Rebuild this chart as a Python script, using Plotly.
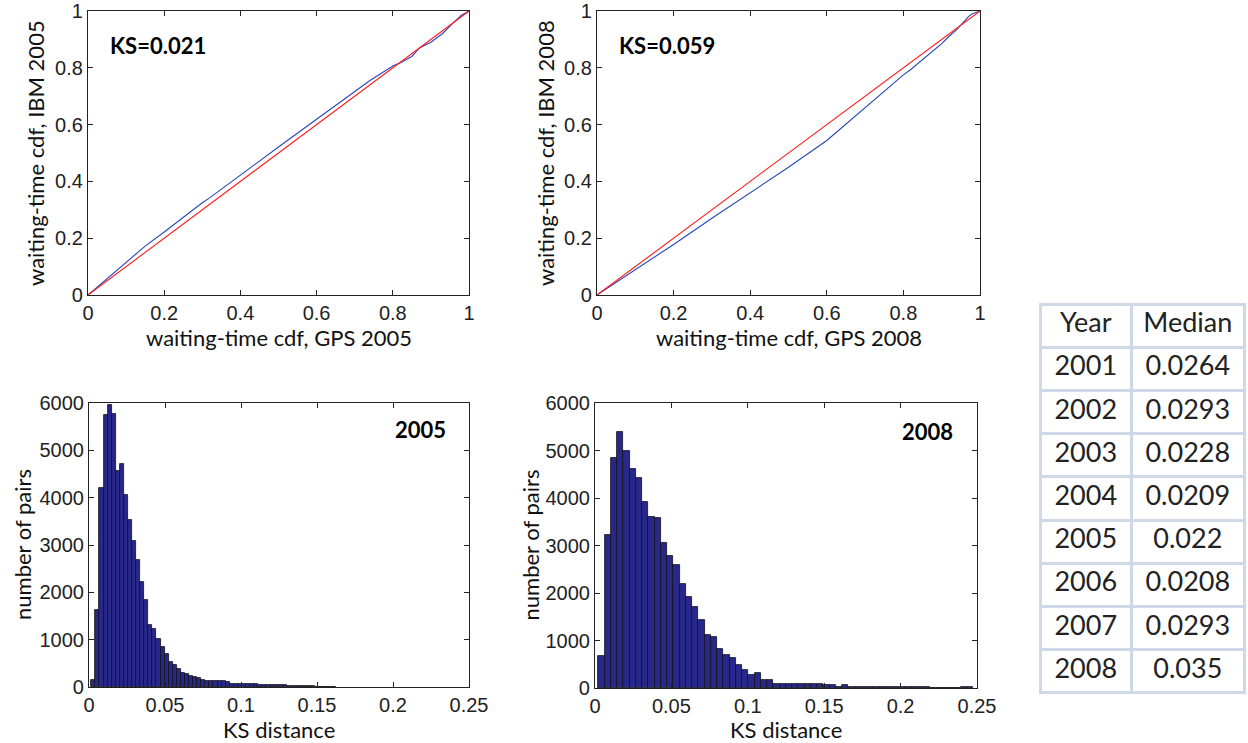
import plotly.graph_objects as go

# ---------------- data ----------------
# P-P curves (GPS cdf on x, IBM cdf on y)
pp2005_x = [0, 0.05, 0.1, 0.15, 0.2, 0.25, 0.3, 0.32, 0.4, 0.5, 0.6, 0.7, 0.74, 0.8, 0.82, 0.85, 0.87, 0.9, 0.93, 0.96, 0.98, 1]
pp2005_y = [0, 0.058, 0.115, 0.172, 0.222, 0.274, 0.325, 0.343, 0.423, 0.521, 0.619, 0.718, 0.755, 0.806, 0.818, 0.84, 0.87, 0.89, 0.92, 0.96, 0.985, 1]
pp2008_x = [0, 0.1, 0.2, 0.3, 0.4, 0.5, 0.6, 0.7, 0.8, 0.82, 0.85, 0.88, 0.9, 0.92, 0.94, 0.96, 0.97, 0.98, 1]
pp2008_y = [0, 0.088, 0.178, 0.27, 0.36, 0.45, 0.544, 0.66, 0.775, 0.795, 0.83, 0.862, 0.885, 0.912, 0.935, 0.965, 0.98, 0.99, 1]
diag_x = [0, 1]
diag_y = [0, 1]
ks_labels = ["KS=0.021", "KS=0.059"]

# KS-distance histograms (60 bins each)
hist2005_start = 0.0015
hist2005_width = 0.00268
hist2005_counts = [150, 1620, 4200, 5740, 5950, 5775, 4560, 4720, 4050, 3530, 3080, 2680, 2220, 1830, 1300,
                   1225, 1020, 840, 700, 530, 460, 370, 300, 270, 230, 210, 195, 155, 127, 127,
                   125, 125, 125, 100, 70, 70, 70, 70, 70, 70, 70, 42, 42, 42, 42,
                   42, 42, 42, 15, 15, 15, 15, 15, 15, 15, 10, 10, 10, 10, 10]
hist2008_start = 0.0022
hist2008_width = 0.00409
hist2008_counts = [670, 3220, 4850, 5400, 4990, 4610, 4430, 3910, 3590, 3570, 3050, 2770, 2580, 2200, 1910,
                   1710, 1430, 1120, 1080, 830, 700, 640, 480, 385, 280, 315, 160, 160, 90, 90,
                   90, 90, 90, 80, 80, 80, 55, 55, 20, 55, 20, 20, 20, 20, 20,
                   20, 20, 20, 20, 20, 20, 20, 20, 0, 0, 0, 0, 0, 15, 15]
hist_labels = ["2005", "2008"]

# axis titles
x_titles = ["waiting-time cdf, GPS 2005", "waiting-time cdf, GPS 2008", "KS distance", "KS distance"]
y_titles = ["waiting-time cdf, IBM 2005", "waiting-time cdf, IBM 2008", "number of pairs", "number of pairs"]

# table
table_years = ["2001", "2002", "2003", "2004", "2005", "2006", "2007", "2008"]
table_medians = ["0.0264", "0.0293", "0.0228", "0.0209", "0.022", "0.0208", "0.0293", "0.035"]
table_header = ["Year", "Median"]

# ---------------- figure ----------------
OFF = 0  # page body margin removed by post_script
W, H = 1248, 743
def xd(a, b):
    return [(a - OFF) / W, (b - OFF) / W]
def yd(top, bottom):
    return [1 - (bottom - OFF) / H, 1 - (top - OFF) / H]

fig = go.Figure()

blue = "#2846b8"
red = "#ff1a1a"
bar_col = "#27278c"

# top plots
fig.add_trace(go.Scatter(x=pp2005_x, y=pp2005_y, mode="lines", line=dict(color=blue, width=1.1), xaxis="x", yaxis="y", showlegend=False))
fig.add_trace(go.Scatter(x=diag_x, y=diag_y, mode="lines", line=dict(color=red, width=1.1), xaxis="x", yaxis="y", showlegend=False))
fig.add_trace(go.Scatter(x=pp2008_x, y=pp2008_y, mode="lines", line=dict(color=blue, width=1.1), xaxis="x2", yaxis="y2", showlegend=False))
fig.add_trace(go.Scatter(x=diag_x, y=diag_y, mode="lines", line=dict(color=red, width=1.1), xaxis="x2", yaxis="y2", showlegend=False))

# histograms
c05 = [hist2005_start + (i + 0.5) * hist2005_width for i in range(len(hist2005_counts))]
c08 = [hist2008_start + (i + 0.5) * hist2008_width for i in range(len(hist2008_counts))]
fig.add_trace(go.Bar(x=c05, y=hist2005_counts, width=hist2005_width, marker=dict(color=bar_col, line=dict(color="#111111", width=0.8)),
                     xaxis="x3", yaxis="y3", showlegend=False))
fig.add_trace(go.Bar(x=c08, y=hist2008_counts, width=hist2008_width, marker=dict(color=bar_col, line=dict(color="#111111", width=0.8)),
                     xaxis="x4", yaxis="y4", showlegend=False))

# table
fig.add_trace(go.Table(
    domain=dict(x=xd(1040, 1245), y=yd(304, 694)),
    columnwidth=[92, 113],
    header=dict(values=table_header, height=43.2, align="center", fill_color="white",
                line=dict(color="#cfd8e6", width=3), font=dict(family="Lato", size=27, color="#222222")),
    cells=dict(values=[table_years, table_medians], height=43.2, align="center", fill_color="white",
               line=dict(color="#cfd8e6", width=3), font=dict(family="Lato", size=27, color="#222222")),
))

tickfont = dict(family="Liberation Sans", size=20, color="#222222")
titlefont = dict(family="Lato", size=22, color="#111111")
common = dict(showline=True, linecolor="#222222", linewidth=1.2, mirror="ticks", ticks="inside", ticklen=5,
              tickcolor="#222222", showgrid=False, zeroline=False, tickfont=tickfont, automargin=False,
              ticklabeloverflow="allow")

cdf_ticks = [0, 0.2, 0.4, 0.6, 0.8, 1]
cdf_text = ["0", "0.2", "0.4", "0.6", "0.8", "1"]
ks_ticks = [0, 0.05, 0.1, 0.15, 0.2, 0.25]
ks_text = ["0", "0.05", "0.1", "0.15", "0.2", "0.25"]
cnt_ticks = [0, 1000, 2000, 3000, 4000, 5000, 6000]

fig.update_layout(
    width=W, height=H, margin=dict(l=0, r=0, t=0, b=0),
    paper_bgcolor="white", plot_bgcolor="white", bargap=0,
    xaxis=dict(domain=xd(88, 469), range=[0, 1], tickvals=cdf_ticks, ticktext=cdf_text, anchor="y", **common),
    yaxis=dict(domain=yd(11, 295), range=[0, 1], tickvals=cdf_ticks, ticktext=cdf_text, anchor="x", **common),
    xaxis2=dict(domain=xd(597, 980), range=[0, 1], tickvals=cdf_ticks, ticktext=cdf_text, anchor="y2", **common),
    yaxis2=dict(domain=yd(11, 295), range=[0, 1], tickvals=cdf_ticks, ticktext=cdf_text, anchor="x2", **common),
    xaxis3=dict(domain=xd(89, 469), range=[0, 0.25], tickvals=ks_ticks, ticktext=ks_text, anchor="y3", **common),
    yaxis3=dict(domain=yd(403, 687), range=[0, 6000], tickvals=cnt_ticks, anchor="x3", **common),
    xaxis4=dict(domain=xd(595, 977), range=[0, 0.25], tickvals=ks_ticks, ticktext=ks_text, anchor="y4", **common),
    yaxis4=dict(domain=yd(403, 688), range=[0, 6000], tickvals=cnt_ticks, anchor="x4", **common),
)

# axis titles placed relative to each axis domain
axis_pairs = [("x", "y", 42, 53), ("x2", "y2", 42, 52), ("x3", "y3", 42, 67), ("x4", "y4", 41, 65)]
for i, (xa, ya, xs, ys) in enumerate(axis_pairs):
    fig.add_annotation(x=0.5, y=0, xref=xa + " domain", yref=ya + " domain", yshift=-xs, text=x_titles[i],
                       showarrow=False, xanchor="center", yanchor="middle", font=titlefont)
    fig.add_annotation(x=0, y=0.5, xref=xa + " domain", yref=ya + " domain", xshift=-ys, text=y_titles[i],
                       showarrow=False, xanchor="center", yanchor="middle", textangle=-90, font=titlefont)

bold = dict(family="Lato", size=22, color="#000000")
fig.add_annotation(x=0.053, y=0.88, xref="x", yref="y", text="<b>" + ks_labels[0] + "</b>", showarrow=False, xanchor="left", font=bold)
fig.add_annotation(x=0.052, y=0.88, xref="x2", yref="y2", text="<b>" + ks_labels[1] + "</b>", showarrow=False, xanchor="left", font=bold)
fig.add_annotation(x=0.236, y=5430, xref="x3", yref="y3", text="<b>" + hist_labels[0] + "</b>", showarrow=False, xanchor="right", font=bold)
fig.add_annotation(x=0.2356, y=5390, xref="x4", yref="y4", text="<b>" + hist_labels[1] + "</b>", showarrow=False, xanchor="right", font=bold)

fig.write_html("out.html", config={"displayModeBar": False},
               post_script="document.body.style.margin='0px'; document.body.style.overflow='hidden';")
